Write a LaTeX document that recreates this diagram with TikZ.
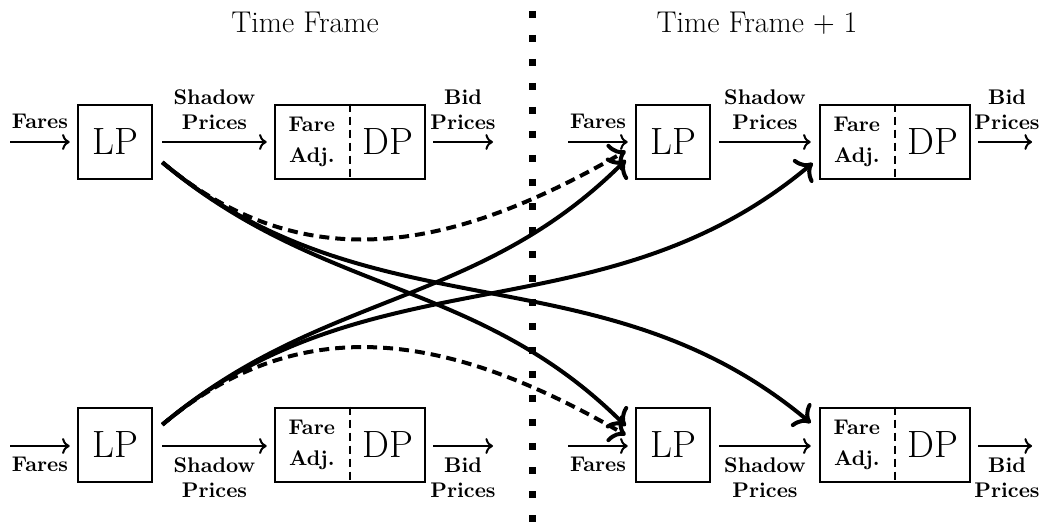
\documentclass[tikz,border=0pt]{standalone}
\usetikzlibrary{calc,arrows.meta}
\begin{document}
\begin{tikzpicture}[x=0.5pt,y=-0.5pt,
  lpbox/.style={draw, line width=1.3pt, minimum width=37pt, minimum height=37pt, inner sep=0pt, font=\fontsize{19}{22}\selectfont},
  dpbox/.style={draw, line width=1.3pt, minimum width=75pt, minimum height=37pt, inner sep=0pt},
  flow/.style={line width=1pt, ->},
  lab/.style={font=\fontsize{10.6}{12.6}\selectfont\bfseries, inner sep=0pt, align=center},
  link/.style={line width=2pt, -{To[scale=1.2]}},
  dlink/.style={link, dash pattern=on 5pt off 3pt},
  divider/.style={line width=1pt, dash pattern=on 4pt off 2.5pt},
  title/.style={font=\fontsize{15}{18}\selectfont, anchor=base}]
\useasboundingbox (0,0) rectangle (1052,522);

% column titles
\node[title] (t1) at (305,33) {Time Frame};
\node[title] (t2) at (757,33) {Time Frame + 1};

% separator between the two time frames
\coordinate (sep0) at (532,11);
\coordinate (sep1) at (532,522);
\draw[line width=3.5pt, dash pattern=on 3.5pt off 8.5pt] (sep0) -- (sep1);

% LP and DP boxes
\node[lpbox] (lp1) at (115,142) {LP};
\node[dpbox] (dp1) at (350,142) {};
\node[lpbox] (lp2) at (673,142) {LP};
\node[dpbox] (dp2) at (895,142) {};
\node[lpbox] (lp3) at (115,445) {LP};
\node[dpbox] (dp3) at (350,445) {};
\node[lpbox] (lp4) at (673,445) {LP};
\node[dpbox] (dp4) at (895,445) {};

\foreach \d in {dp1,dp2,dp3,dp4}{
  \draw[divider] (\d.north) -- (\d.south);
  \node[lab] (\d-fa) at ($(\d.center)!0.5!(\d.west)$) {Fare\\[3pt]Adj.};
  \node[font=\fontsize{19}{22}\selectfont] (\d-dp) at ($(\d.center)!0.5!(\d.east)$) {DP};
}

% inputs and outputs
\coordinate (in1) at (10,142);
\coordinate (in2) at (568,142);
\coordinate (in3) at (10,446);
\coordinate (in4) at (568,446);
\coordinate (out1) at (493,142);
\coordinate (out2) at (1032,142);
\coordinate (out3) at (493,446);
\coordinate (out4) at (1032,446);

\draw[flow, shorten >=3.5pt] (in1) -- (in1 -| lp1.west);
\draw[flow, shorten >=3.5pt] (in2) -- (in2 -| lp2.west);
\draw[flow, shorten >=3.5pt] (in3) -- (in3 -| lp3.west);
\draw[flow, shorten >=3.5pt] (in4) -- (in4 -| lp4.west);
\draw[flow, shorten <=4.5pt, shorten >=3.5pt] (lp1) -- (dp1);
\draw[flow, shorten <=4pt, shorten >=4pt] (lp2) -- (dp2);
\draw[flow, shorten <=4.5pt, shorten >=3.5pt] (lp3.east |- in3) -- (dp3.west |- in3);
\draw[flow, shorten <=4pt, shorten >=4pt] (lp4.east |- in4) -- (dp4.west |- in4);
\draw[flow, shorten <=3.5pt] (dp1.east |- out1) -- (out1);
\draw[flow, shorten <=3.5pt] (dp2.east |- out2) -- (out2);
\draw[flow, shorten <=3.5pt] (dp3.east |- out3) -- (out3);
\draw[flow, shorten <=3.5pt] (dp4.east |- out4) -- (out4);

% arrow labels
\node[lab, anchor=base] (f1) at (40,129) {Fares};
\node[lab, anchor=south] (sp1) at (214.5,130) {Shadow\\Prices};
\node[lab, anchor=south] (bp1) at (463,130) {Bid\\Prices};
\node[lab, anchor=base] (f2) at (598,129) {Fares};
\node[lab, anchor=south] (sp2) at (765,130) {Shadow\\Prices};
\node[lab, anchor=south] (bp2) at (1007,130) {Bid\\Prices};
\node[lab, anchor=base] (f3) at (40,471) {Fares};
\node[lab, anchor=north] (sp3) at (214.5,457) {Shadow\\Prices};
\node[lab, anchor=north] (bp3) at (463,457) {Bid\\Prices};
\node[lab, anchor=base] (f4) at (598,471) {Fares};
\node[lab, anchor=north] (sp4) at (765,457) {Shadow\\Prices};
\node[lab, anchor=north] (bp4) at (1007,457) {Bid\\Prices};

% links into the next time frame
\coordinate (sT) at ($(lp1.south east)+(9,-18)$);
\coordinate (sB) at ($(lp3.north east)+(9,18)$);
\coordinate (eTL) at ($(lp2.west)+(-9,18)$);
\coordinate (eTLd) at ($(lp2.west)+(-9,9)$);
\coordinate (eBL) at ($(lp4.west)+(-9,-19)$);
\coordinate (eBLd) at ($(lp4.west)+(-9,-10)$);
\coordinate (eTD) at ($(dp2.west)+(-6,21)$);
\coordinate (eBD) at ($(dp4.west)+(-8,-22)$);

\draw[link] (sT) to[out=-40,in=135] (eBL);
\draw[link] (sT) to[out=-40,in=140] (eBD);
\draw[dlink] (sT) to[out=-40,in=210,looseness=1.05] (eTLd);
\draw[link] (sB) to[out=40,in=-135] (eTL);
\draw[link] (sB) to[out=40,in=-140] (eTD);
\draw[dlink] (sB) to[out=40,in=150,looseness=1.05] (eBLd);
\end{tikzpicture}
\end{document}
